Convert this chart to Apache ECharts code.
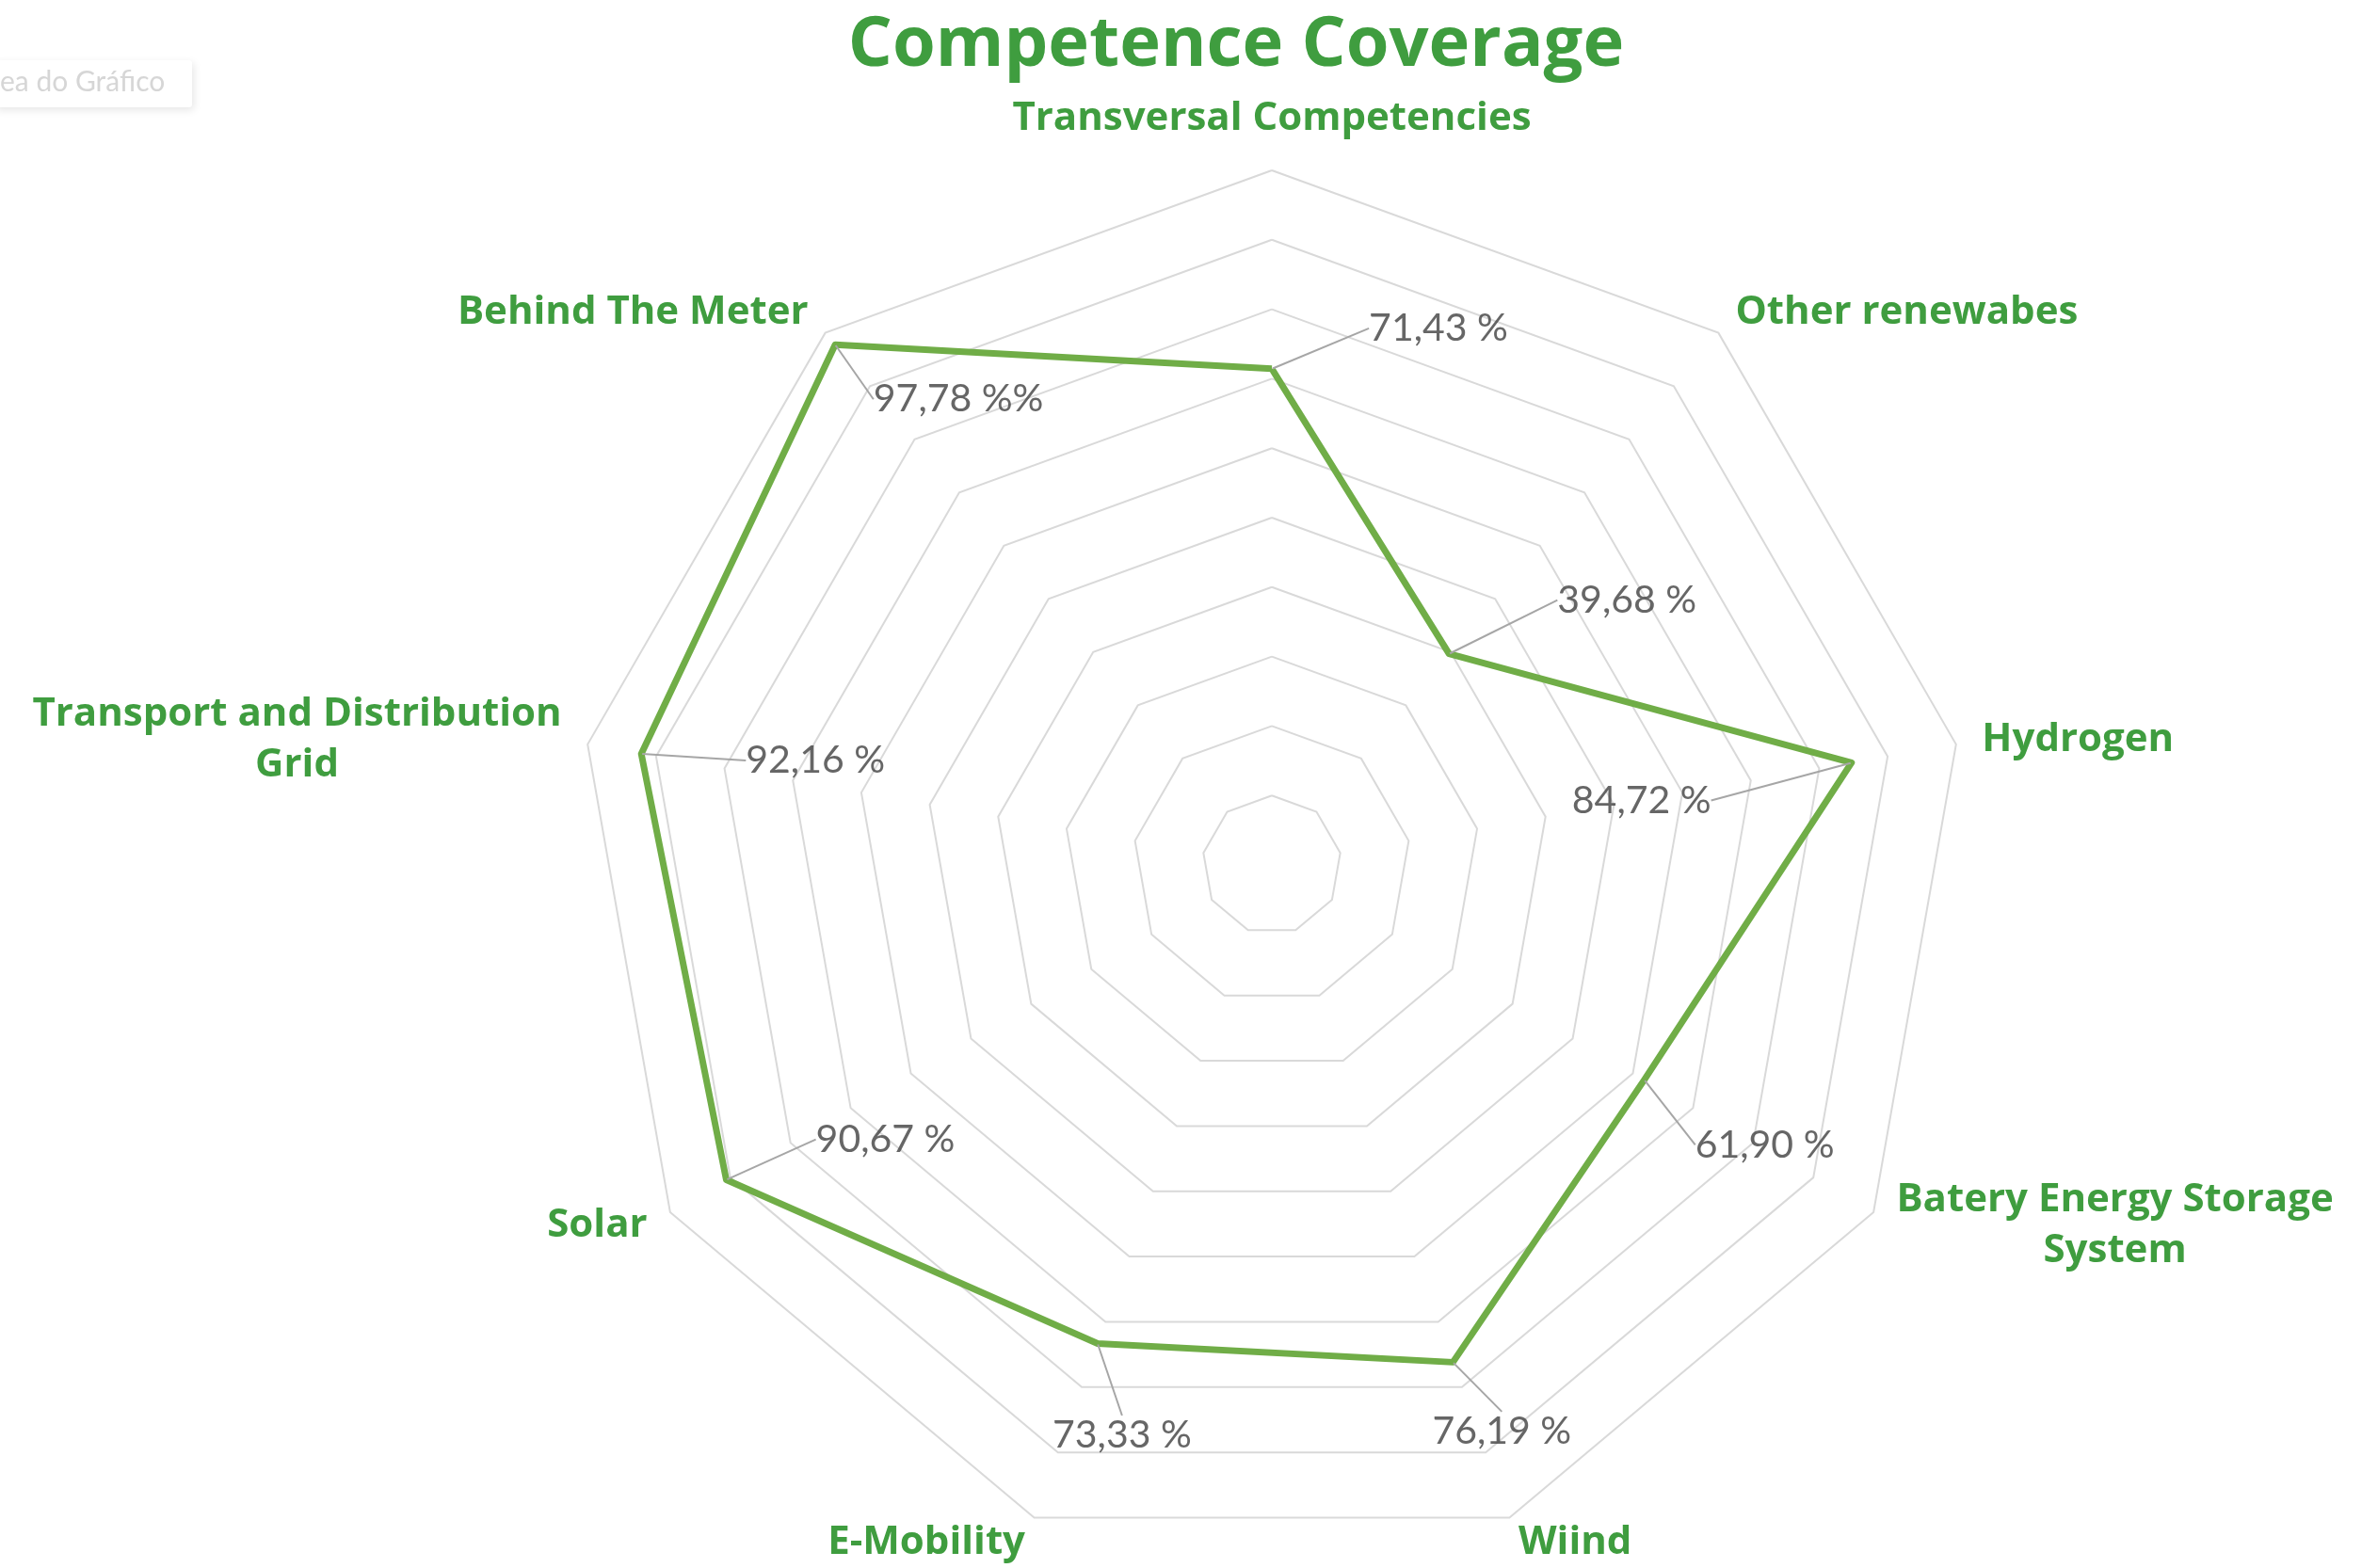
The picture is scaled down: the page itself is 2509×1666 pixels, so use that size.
<!DOCTYPE html>
<html>
<head>
<meta charset="utf-8">
<script src="https://cdn.jsdelivr.net/npm/echarts@6/dist/echarts.min.js"></script>
<style>
  html, body { margin: 0; padding: 0; background: #fff; }
  #chart { width: 2509px; height: 1666px; }
</style>
</head>
<body>
<div id="chart"></div>
<script>
// categories in the clockwise order excel draws them, starting at the top
const categories = [
  'Transversal Competencies',
  'Other renewabes',
  'Hydrogen',
  'Batery Energy Storage\nSystem',
  'Wiind',
  'E-Mobility',
  'Solar',
  'Transport and Distribution\nGrid',
  'Behind The Meter',
];
const coverage = [71.43, 39.68, 84.72, 61.90, 76.19, 73.33, 90.67, 92.16, 97.78];
const valueLabels = ['71,43 %', '39,68 %', '84,72 %', '61,90 %', '76,19 %', '73,33 %', '90,67 %', '92,16 %', '97,78 %%'];
const axisMax = 100;
const ringCount = 10;

const CENTER = [1351, 919];
const RADIUS = 738;
const TEXT_GREEN = '#3f9d3f';
const LINE_GREEN = '#70ad47';

// where excel dragged each value label, relative to its vertex
const labelShift = [
  [177, -43], [189, -57], [-223, 40], [128, 69], [52, 73],
  [26, 97], [169, -43], [185, 7], [131, 58],
];

// echarts radar goes counter-clockwise, so flip the order after the first one
const n = categories.length;
const radarOrder = categories.map((_, i) => (n - i) % n);
const step = 360 / n;

const chart = echarts.init(document.getElementById('chart'));

chart.setOption({
  animation: false,
  backgroundColor: '#fff',
  title: {
    text: 'Competence Coverage',
    left: 1308,
    textAlign: 'center',
    top: 7,
    textStyle: {
      fontFamily: 'Open Sans',
      fontWeight: 'bold',
      fontSize: 74,
      color: TEXT_GREEN,
    },
  },
  graphic: [
    {
      type: 'rect',
      shape: { x: -6, y: 64, width: 210, height: 50, r: 3 },
      style: { fill: '#fff', shadowBlur: 8, shadowColor: 'rgba(0,0,0,0.10)', shadowOffsetY: 3, shadowOffsetX: 2 },
    },
    {
      type: 'text',
      left: 0,
      top: 72,
      style: { text: 'ea do Gráfico', font: '30px Lato', fill: '#d6d6d6' },
    },
  ],
  radar: {
    center: CENTER,
    radius: RADIUS,
    startAngle: 90,
    splitNumber: ringCount,
    shape: 'polygon',
    indicator: radarOrder.map(i => ({ name: categories[i], max: axisMax, min: 0 })),
    axisName: {
      formatter: name => name.split('\n').map(s => '{c|' + s + '}').join('\n'),
      rich: {
        c: {
          align: 'center',
          fontFamily: 'Open Sans',
          fontWeight: 'bold',
          fontSize: 42,
          lineHeight: 54,
          color: TEXT_GREEN,
        },
      },
    },
    nameGap: 28,
    axisLine: { show: false },
    axisTick: { show: false },
    axisLabel: { show: false },
    splitArea: { show: false },
    splitLine: { lineStyle: { color: '#d9d9d9', width: 2 } },
  },
  polar: {
    center: CENTER,
    radius: RADIUS,
  },
  angleAxis: {
    type: 'value',
    min: 0,
    max: 360,
    startAngle: 90,
    clockwise: true,
    show: false,
  },
  radiusAxis: {
    type: 'value',
    min: 0,
    max: axisMax,
    show: false,
  },
  series: [
    {
      type: 'radar',
      silent: true,
      symbol: 'none',
      lineStyle: { color: LINE_GREEN, width: 7 },
      data: [{ value: radarOrder.map(i => coverage[i]) }],
    },
    {
      type: 'scatter',
      coordinateSystem: 'polar',
      silent: true,
      symbolSize: 2,
      itemStyle: { color: 'transparent' },
      data: coverage.map((v, i) => [v, i * step]),
      label: {
        show: true,
        position: 'inside',
        align: 'center',
        verticalAlign: 'middle',
        formatter: p => valueLabels[p.dataIndex],
        fontFamily: 'Lato',
        fontSize: 41,
        color: '#404040',
      },
      labelLine: {
        show: true,
        lineStyle: { color: '#a6a6a6', width: 2 },
      },
      labelLayout: p => ({ dx: labelShift[p.dataIndex][0], dy: labelShift[p.dataIndex][1] }),
    },
  ],
});
</script>
</body>
</html>
